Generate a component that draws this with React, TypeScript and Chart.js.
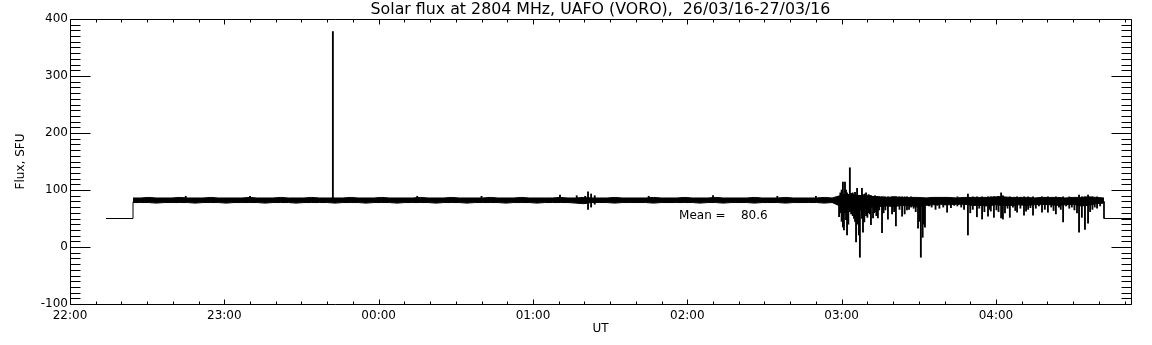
import React, { useEffect, useRef } from "react";
import { Chart, registerables } from "chart.js";

Chart.register(...registerables);

const FONT = "DejaVu Sans";
const TITLE = "Solar flux at 2804 MHz, UAFO (VORO),  26/03/16-27/03/16";
const X_TITLE = "UT";
const Y_TITLE = "Flux, SFU";
const X_TICK_LABELS = ["22:00", "23:00", "00:00", "01:00", "02:00", "03:00", "04:00"];
// time axis: minutes after 22:00 UT
const X_MIN = 0;
const X_MAX = 412.5;
const Y_MIN = -100;
const Y_MAX = 400;
const MEAN_TEXT = "Mean =    80.6";
const MEAN_AT_T = 236.8;
const MEAN_AT_V = 49;

// calibration steps before / after the observation
const LEAD_T = [14, 24.5, 24.5];
const LEAD_V = [50, 50, 79];
const TAIL_T = [402, 402, 414];
const TAIL_V = [80, 50, 50];

// envelope of the noisy flux record, sampled evenly from BAND_T0 to BAND_T1
const BAND_T0 = 24.5;
const BAND_T1 = 402;
const BAND_HIGH = [
  86, 86, 87, 86, 86, 86, 87, 86, 86, 86,
  87, 86, 86, 86, 86, 87, 86, 86, 86, 87,
  86, 86, 86, 87, 86, 86, 86, 86, 87, 86,
  86, 86, 87, 86, 86, 86, 86, 87, 86, 86,
  86, 87, 86, 86, 86, 86, 87, 86, 86, 86,
  87, 86, 86, 86, 86, 87, 86, 86, 87, 86,
  86, 86, 87, 86, 86, 86, 86, 87, 86, 86,
  86, 87, 86, 86, 86, 87, 86, 86, 86, 86,
  87, 86, 86, 86, 87, 86, 86, 86, 86, 87,
  86, 90, 92, 91, 90, 89, 88, 87, 88, 87,
  87, 87, 86, 87, 87, 87, 86, 87, 87, 87,
  87, 88, 88, 87, 87, 87, 86, 87, 87, 87,
  86, 87, 87, 88, 87, 86,
];
const BAND_LOW = [
  78, 78, 78, 77, 78, 78, 78, 78, 77, 78,
  78, 78, 77, 78, 78, 78, 78, 77, 78, 78,
  78, 77, 78, 78, 78, 78, 77, 78, 78, 78,
  77, 78, 78, 78, 77, 78, 78, 78, 78, 77,
  78, 78, 78, 77, 78, 78, 78, 78, 77, 78,
  78, 78, 77, 78, 78, 78, 78, 77, 76, 78,
  78, 78, 77, 78, 78, 78, 78, 77, 78, 78,
  78, 78, 78, 77, 78, 78, 77, 78, 78, 78,
  77, 78, 78, 78, 77, 78, 78, 78, 78, 77,
  78, 72, 66, 64, 66, 70, 71, 72, 71, 73,
  73, 70, 73, 74, 75, 74, 75, 75, 73, 73,
  72, 74, 73, 73, 74, 73, 74, 75, 74, 73,
  74, 75, 72, 73, 76, 77,
];

// individual spikes: time, lowest and highest value
const SPIKE_T = [
  45, 70, 102.2, 135, 160, 190.5, 197, 200.3, 201.4, 202.6, 204, 225, 250, 275, 290,
  299.0, 299.5, 300.0, 300.5, 300.9, 301.3, 301.7, 302.1, 302.6, 303.2, 303.7, 304.3, 304.8,
  305.2, 305.6, 306.0, 306.7, 307.1, 307.9, 308.3, 308.8, 309.0, 309.5, 310.0, 310.5, 311.0,
  311.4, 312.2, 312.7, 313.0, 313.5, 314.1, 314.6, 315.7, 316.3, 317.0, 318.0, 319.6, 320.4,
  321.1, 322.5, 323.5, 324.5, 325.4, 327.0, 329.7, 330.2, 330.8, 331.5, 332.0, 332.4, 335.0,
  338.0, 341.0, 345.0, 349.1, 351.0, 352.6, 354.6, 356.9, 358.0, 359.2, 361.0, 362.0, 362.7,
  365.4, 368.2, 370.9, 372.5, 374.4, 377.9, 380.2, 383.3, 386.1, 388.5, 392.3, 393.4, 394.6,
  395.8, 397.5, 399.3,
];
const SPIKE_LO = [
  84, 84, 82, 84, 84, 84, 84, 76, 66, 70, 75, 84, 84, 84, 84,
  53, 60, 45, 35, 30, 60, 48, 21, 40, 62, 58, 55, 50,
  45, 9, 40, 21, -18, 50, 26, 44, 58, 55, 52, 60, 58,
  39, 51, 60, 62, 55, 51, 65, 25, 60, 65, 49, 58, 62,
  37, 66, 54, 58, 65, 70, 33, 45, -18, 17, 40, 35, 70,
  68, 61, 72, 21, 66, 53, 49, 54, 63, 52, 62, 51, 49,
  52, 61, 56, 66, 56, 61, 61, 58, 44, 68, 26, 52, 31,
  42, 66, 68,
];
const SPIKE_HI = [
  89, 89, 378, 89, 89, 91, 90, 89, 97, 93, 90, 89, 90, 89, 89,
  88, 95, 100, 114, 92, 114, 100, 95, 92, 139, 94, 95, 92,
  96, 90, 103, 90, 90, 103, 92, 90, 93, 95, 90, 92, 90,
  90, 88, 88, 90, 88, 88, 88, 88, 88, 88, 88, 88, 88,
  88, 88, 88, 88, 88, 88, 86, 86, 86, 86, 86, 86, 87,
  87, 87, 88, 93, 88, 88, 88, 88, 88, 88, 89, 95, 90,
  88, 88, 88, 88, 88, 88, 88, 88, 88, 88, 91, 88, 88,
  91, 88, 88,
];

// small dips below the band after 03:00 (they hang down from DIP_TOP)
const DIP_TOP = 80;
const DIP_T = [
  326.2, 328.0, 328.8, 334.0, 336.5, 337.2, 339.5, 340.2, 342.5, 343.8, 346.5, 347.6, 350.0,
  353.5, 355.5, 357.5, 360.2, 363.5, 364.5, 366.6, 367.5, 369.5, 371.7, 373.4, 375.5, 376.7,
  379.0, 381.5, 382.4, 384.5, 385.2, 387.3, 389.5, 390.5, 391.5, 396.6, 398.4, 400.5,
];
const DIP_LO = [
  66, 68, 62, 72, 66, 73, 70, 74, 69, 73, 70, 66, 60,
  68, 62, 66, 65, 60, 68, 70, 64, 68, 63, 69, 68, 72,
  66, 70, 64, 70, 66, 72, 70, 65, 60, 62, 70, 72,
];

const idlFrame = {
  id: "idlFrame",
  afterDraw(chart: any) {
    const { ctx, chartArea: a, scales } = chart;
    const xs = scales.x;
    const ys = scales.y;
    ctx.save();
    ctx.strokeStyle = "#000";
    ctx.lineWidth = 1;
    ctx.beginPath();
    const L = Math.round(a.left) + 0.5;
    const R = Math.round(a.right) + 0.5;
    const T = Math.round(a.top) + 0.5;
    const B = Math.round(a.bottom) + 0.5;
    ctx.rect(L, T, R - L, B - T);
    for (let v = Y_MIN; v <= Y_MAX; v += 10) {
      const py = Math.round(ys.getPixelForValue(v)) + 0.5;
      const len = v % 100 === 0 ? 20 : 10;
      ctx.moveTo(L, py);
      ctx.lineTo(L + len, py);
      ctx.moveTo(R, py);
      ctx.lineTo(R - len, py);
    }
    for (let t = X_MIN; t <= X_MAX; t += 10) {
      const px = Math.round(xs.getPixelForValue(t)) + 0.5;
      const len = t % 60 === 0 ? 5 : 3;
      ctx.moveTo(px, B);
      ctx.lineTo(px, B - len);
      ctx.moveTo(px, T);
      ctx.lineTo(px, T + len);
    }
    ctx.stroke();
    ctx.fillStyle = "#000";
    ctx.font = `12px "${FONT}"`;
    ctx.textAlign = "left";
    ctx.textBaseline = "alphabetic";
    ctx.fillText(MEAN_TEXT, xs.getPixelForValue(MEAN_AT_T), ys.getPixelForValue(MEAN_AT_V));
    ctx.restore();
  },
};

export default function App() {
  const ref = useRef<HTMLCanvasElement>(null);
  useEffect(() => {
    document.body.style.margin = "0";
    Chart.defaults.font.family = FONT;
    Chart.defaults.color = "#000";
    const n = BAND_HIGH.length;
    const bandT = BAND_HIGH.map((_, i) => BAND_T0 + ((BAND_T1 - BAND_T0) * i) / (n - 1));
    const lineStyle = { borderColor: "#000", borderWidth: 1, pointRadius: 0, tension: 0 };
    const barStyle = { backgroundColor: "#000", borderWidth: 0, barThickness: 1.2, grouped: false };
    const chart = new Chart(ref.current as HTMLCanvasElement, {
      type: "line",
      data: {
        datasets: [
          { type: "line", data: LEAD_T.map((t, i) => ({ x: t, y: LEAD_V[i] })), fill: false, ...lineStyle },
          { type: "line", data: bandT.map((t, i) => ({ x: t, y: BAND_LOW[i] })), fill: false, ...lineStyle },
          {
            type: "line",
            data: bandT.map((t, i) => ({ x: t, y: BAND_HIGH[i] })),
            fill: "-1",
            backgroundColor: "#000",
            ...lineStyle,
          },
          { type: "line", data: TAIL_T.map((t, i) => ({ x: t, y: TAIL_V[i] })), fill: false, ...lineStyle },
          {
            type: "bar",
            data: SPIKE_T.map((t, i) => ({ x: t, y: [SPIKE_LO[i], SPIKE_HI[i]] })),
            ...barStyle,
          } as any,
          {
            type: "bar",
            data: DIP_T.map((t, i) => ({ x: t, y: [DIP_LO[i], DIP_TOP] })),
            ...barStyle,
          } as any,
        ],
      },
      options: {
        responsive: false,
        animation: false,
        devicePixelRatio: 1,
        layout: { padding: { left: 0, right: 21, top: 0, bottom: 0 } },
        plugins: {
          legend: { display: false },
          tooltip: { enabled: false },
          title: {
            display: true,
            text: TITLE,
            fullSize: false,
            color: "#000",
            font: { family: FONT, size: 15.8, weight: "normal", lineHeight: 1.15 },
            padding: { top: 0.4, bottom: 0.43 },
          },
        },
        scales: {
          x: {
            type: "linear",
            min: X_MIN,
            max: X_MAX,
            offset: false,
            grid: { display: false, drawTicks: false, offset: false },
            border: { display: false },
            ticks: {
              stepSize: 60,
              includeBounds: false,
              autoSkip: false,
              maxRotation: 0,
              padding: 5,
              font: { size: 12 },
              callback: (v: any) => X_TICK_LABELS[Math.round(Number(v) / 60)] ?? "",
            },
            title: { display: true, text: X_TITLE, font: { size: 12 }, padding: { top: 0, bottom: 9 } },
            afterFit: (s: any) => {
              s.height = 41;
            },
          },
          y: {
            type: "linear",
            min: Y_MIN,
            max: Y_MAX,
            grid: { display: false, drawTicks: false },
            border: { display: false },
            ticks: { stepSize: 100, padding: 2, font: { size: 12 } },
            title: { display: true, text: Y_TITLE, font: { size: 12 }, padding: { top: 14, bottom: 0 } },
            afterFit: (s: any) => {
              s.width = 70;
            },
          },
        },
      } as any,
      plugins: [idlFrame],
    });
    return () => chart.destroy();
  }, []);
  return (
    <div style={{ position: "absolute", left: 0, top: 0, width: 1152, height: 345, background: "#fff" }}>
      <canvas ref={ref} width={1152} height={345} style={{ display: "block" }} />
    </div>
  );
}
